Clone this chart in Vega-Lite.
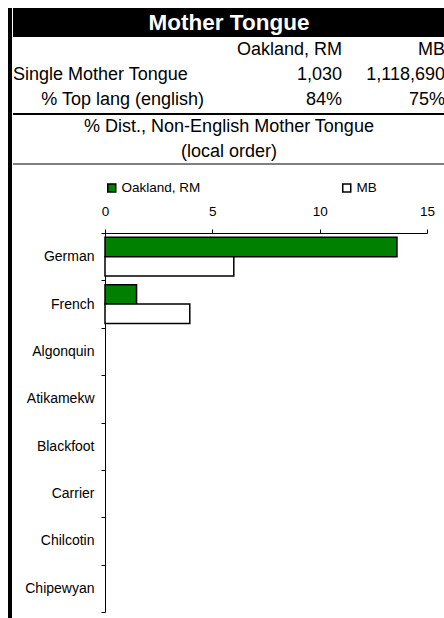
{
  "$schema": "https://vega.github.io/schema/vega-lite/v6.json",
  "padding": {"left": 8, "top": 8, "right": 0, "bottom": 0},
  "config": {
    "font": "Liberation Sans",
    "view": {"stroke": null},
    "text": {"color": "black"}
  },
  "datasets": {
    "banner": [{"title": "Mother Tongue"}],
    "table": [
      {"metric": "Single Mother Tongue", "region": "Oakland, RM", "value": 1030},
      {"metric": "Single Mother Tongue", "region": "MB", "value": 1118690},
      {"metric": "% Top lang (english)", "region": "Oakland, RM", "value": 0.84},
      {"metric": "% Top lang (english)", "region": "MB", "value": 0.75}
    ],
    "subtitle": [
      {"line": "% Dist., Non-English Mother Tongue"},
      {"line": "(local order)"}
    ],
    "dist": [
      {"language": "German", "region": "Oakland, RM", "share": 13.6},
      {"language": "German", "region": "MB", "share": 6.0},
      {"language": "French", "region": "Oakland, RM", "share": 1.47},
      {"language": "French", "region": "MB", "share": 3.95},
      {"language": "Algonquin", "region": "Oakland, RM", "share": 0},
      {"language": "Algonquin", "region": "MB", "share": 0},
      {"language": "Atikamekw", "region": "Oakland, RM", "share": 0},
      {"language": "Atikamekw", "region": "MB", "share": 0},
      {"language": "Blackfoot", "region": "Oakland, RM", "share": 0},
      {"language": "Blackfoot", "region": "MB", "share": 0},
      {"language": "Carrier", "region": "Oakland, RM", "share": 0},
      {"language": "Carrier", "region": "MB", "share": 0},
      {"language": "Chilcotin", "region": "Oakland, RM", "share": 0},
      {"language": "Chilcotin", "region": "MB", "share": 0},
      {"language": "Chipewyan", "region": "Oakland, RM", "share": 0},
      {"language": "Chipewyan", "region": "MB", "share": 0}
    ]
  },
  "spacing": 0,
  "resolve": {"legend": {"color": "independent"}, "scale": {"color": "independent"}},
  "hconcat": [
    {
      "width": 4,
      "height": 610,
      "view": {"fill": "black", "stroke": null},
      "data": {"name": "banner"},
      "mark": {"type": "text", "text": ""}
    },
    {
      "spacing": 16,
      "resolve": {"legend": {"color": "independent"}, "scale": {"color": "independent"}},
      "vconcat": [
        {
          "spacing": 0,
          "vconcat": [
            {
              "width": 432,
              "height": 29,
              "view": {"fill": "black", "stroke": null},
              "data": {"name": "banner"},
              "mark": {"type": "text", "color": "white", "fontSize": 22.5, "fontWeight": "bold"},
              "encoding": {"text": {"field": "title"}}
            },
            {
              "spacing": 0,
              "hconcat": [
                {
                  "width": 191,
                  "height": 76,
                  "data": {"name": "table"},
                  "transform": [{"filter": "datum.region == 'Oakland, RM'"}],
                  "layer": [
                    {
                      "transform": [{"filter": "datum.metric == 'Single Mother Tongue'"}],
                      "mark": {"type": "text", "align": "left", "fontSize": 18},
                      "encoding": {
                        "x": {"field": "metric", "type": "nominal", "bandPosition": 0, "scale": {"type": "band", "domain": ["Single Mother Tongue", "% Top lang (english)"], "paddingInner": 0, "paddingOuter": 0}, "axis": null},
                        "y": {"field": "metric", "type": "nominal", "bandPosition": 0.5, "scale": {"type": "band", "domain": ["header", "Single Mother Tongue", "% Top lang (english)"], "paddingInner": 0, "paddingOuter": 0}, "axis": null},
                        "text": {"field": "metric"}
                      }
                    },
                    {
                      "transform": [{"filter": "datum.metric == '% Top lang (english)'"}],
                      "mark": {"type": "text", "align": "right", "fontSize": 18},
                      "encoding": {
                        "x": {"field": "metric", "type": "nominal", "bandPosition": 1, "scale": {"type": "band", "domain": ["Single Mother Tongue", "% Top lang (english)"], "paddingInner": 0, "paddingOuter": 0}, "axis": null},
                        "y": {"field": "metric", "type": "nominal", "bandPosition": 0.5, "scale": {"type": "band", "domain": ["header", "Single Mother Tongue", "% Top lang (english)"], "paddingInner": 0, "paddingOuter": 0}, "axis": null},
                        "text": {"field": "metric"}
                      }
                    }
                  ]
                },
                {
                  "width": 138,
                  "height": 76,
                  "data": {"name": "table"},
                  "transform": [{"filter": "datum.region == 'Oakland, RM'"}],
                  "encoding": {
                    "x": {"field": "region", "type": "nominal", "bandPosition": 1, "scale": {"type": "band", "paddingInner": 0, "paddingOuter": 0}, "axis": null}
                  },
                  "layer": [
                    {
                      "transform": [{"filter": "datum.metric == 'Single Mother Tongue'"}],
                      "mark": {"type": "text", "align": "right", "fontSize": 18},
                      "encoding": {
                        "y": {"datum": "header", "type": "nominal", "bandPosition": 0.5, "scale": {"type": "band", "domain": ["header", "Single Mother Tongue", "% Top lang (english)"], "paddingInner": 0, "paddingOuter": 0}, "axis": null},
                        "text": {"field": "region"}
                      }
                    },
                    {
                      "transform": [{"filter": "datum.metric == 'Single Mother Tongue'"}],
                      "mark": {"type": "text", "align": "right", "fontSize": 18},
                      "encoding": {
                        "y": {"field": "metric", "type": "nominal", "bandPosition": 0.5, "scale": {"type": "band", "domain": ["header", "Single Mother Tongue", "% Top lang (english)"], "paddingInner": 0, "paddingOuter": 0}, "axis": null},
                        "text": {"field": "value", "type": "quantitative", "format": ","}
                      }
                    },
                    {
                      "transform": [{"filter": "datum.metric == '% Top lang (english)'"}],
                      "mark": {"type": "text", "align": "right", "fontSize": 18},
                      "encoding": {
                        "y": {"field": "metric", "type": "nominal", "bandPosition": 0.5, "scale": {"type": "band", "domain": ["header", "Single Mother Tongue", "% Top lang (english)"], "paddingInner": 0, "paddingOuter": 0}, "axis": null},
                        "text": {"field": "value", "type": "quantitative", "format": ".0%"}
                      }
                    }
                  ]
                },
                {
                  "width": 103,
                  "height": 76,
                  "data": {"name": "table"},
                  "transform": [{"filter": "datum.region == 'MB'"}],
                  "encoding": {
                    "x": {"field": "region", "type": "nominal", "bandPosition": 1, "scale": {"type": "band", "paddingInner": 0, "paddingOuter": 0}, "axis": null}
                  },
                  "layer": [
                    {
                      "transform": [{"filter": "datum.metric == 'Single Mother Tongue'"}],
                      "mark": {"type": "text", "align": "right", "fontSize": 18},
                      "encoding": {
                        "y": {"datum": "header", "type": "nominal", "bandPosition": 0.5, "scale": {"type": "band", "domain": ["header", "Single Mother Tongue", "% Top lang (english)"], "paddingInner": 0, "paddingOuter": 0}, "axis": null},
                        "text": {"field": "region"}
                      }
                    },
                    {
                      "transform": [{"filter": "datum.metric == 'Single Mother Tongue'"}],
                      "mark": {"type": "text", "align": "right", "fontSize": 18},
                      "encoding": {
                        "y": {"field": "metric", "type": "nominal", "bandPosition": 0.5, "scale": {"type": "band", "domain": ["header", "Single Mother Tongue", "% Top lang (english)"], "paddingInner": 0, "paddingOuter": 0}, "axis": null},
                        "text": {"field": "value", "type": "quantitative", "format": ","}
                      }
                    },
                    {
                      "transform": [{"filter": "datum.metric == '% Top lang (english)'"}],
                      "mark": {"type": "text", "align": "right", "fontSize": 18},
                      "encoding": {
                        "y": {"field": "metric", "type": "nominal", "bandPosition": 0.5, "scale": {"type": "band", "domain": ["header", "Single Mother Tongue", "% Top lang (english)"], "paddingInner": 0, "paddingOuter": 0}, "axis": null},
                        "text": {"field": "value", "type": "quantitative", "format": ".0%"}
                      }
                    }
                  ]
                }
              ]
            },
            {
              "width": 432,
              "height": 50,
              "data": {"name": "subtitle"},
              "layer": [
                {
                  "mark": {"type": "text", "fontSize": 18},
                  "encoding": {
                    "y": {"field": "line", "type": "nominal", "bandPosition": 0.5, "scale": {"type": "band", "domain": ["% Dist., Non-English Mother Tongue", "(local order)"], "paddingInner": 0, "paddingOuter": 0}, "axis": null},
                    "text": {"field": "line"}
                  }
                },
                {
                  "transform": [{"filter": "datum.line == '% Dist., Non-English Mother Tongue'"}],
                  "mark": {"type": "rule", "color": "black", "strokeWidth": 2},
                  "encoding": {
                    "y": {"field": "line", "type": "nominal", "bandPosition": 0, "scale": {"type": "band", "domain": ["% Dist., Non-English Mother Tongue", "(local order)"], "paddingInner": 0, "paddingOuter": 0}, "axis": null}
                  }
                },
                {
                  "transform": [{"filter": "datum.line == '(local order)'"}],
                  "mark": {"type": "rule", "color": "black", "strokeWidth": 1},
                  "encoding": {
                    "y": {"field": "line", "type": "nominal", "bandPosition": 1, "scale": {"type": "band", "domain": ["% Dist., Non-English Mother Tongue", "(local order)"], "paddingInner": 0, "paddingOuter": 0}, "axis": null}
                  }
                }
              ]
            }
          ]
        },
        {
          "spacing": 0,
          "resolve": {"legend": {"color": "independent"}, "scale": {"color": "independent"}},
          "hconcat": [
            {
              "width": 11,
              "height": 1,
              "data": {"name": "banner"},
              "mark": {"type": "text", "text": ""}
            },
            {
              "width": 322,
              "height": 379,
              "data": {"name": "dist"},
              "transform": [{"filter": "datum.share > 0"}],
              "mark": {"type": "bar", "stroke": "black", "strokeWidth": 1.5},
              "encoding": {
                "y": {
                  "field": "language",
                  "type": "nominal",
                  "scale": {"domain": ["German", "French", "Algonquin", "Atikamekw", "Blackfoot", "Carrier", "Chilcotin", "Chipewyan"], "paddingInner": 0, "paddingOuter": 0},
                  "axis": {"title": null, "ticks": true, "tickBand": "extent", "tickSize": 4, "tickWidth": 1, "labelPadding": 7, "labelFontSize": 14, "labelColor": "black", "domainColor": "black", "tickColor": "black"}
                },
                "x": {
                  "field": "share",
                  "type": "quantitative",
                  "scale": {"domain": [0, 15], "nice": false},
                  "axis": {"orient": "top", "title": null, "values": [0, 5, 10, 15], "grid": false, "ticks": true, "tickSize": 4, "tickWidth": 1, "labelPadding": 11, "labelFontSize": 13.5, "labelColor": "black", "domainColor": "black", "tickColor": "black", "labelFlush": false}
                },
                "yOffset": {
                  "field": "region",
                  "type": "nominal",
                  "sort": ["Oakland, RM", "MB"],
                  "scale": {"domain": ["Oakland, RM", "MB"], "paddingInner": 0, "paddingOuter": 0.225}
                },
                "color": {
                  "field": "region",
                  "type": "nominal",
                  "scale": {"domain": ["Oakland, RM", "MB"], "range": ["#008000", "#ffffff"]},
                  "legend": {"orient": "top", "direction": "horizontal", "title": null, "symbolType": "square", "symbolSize": 64, "symbolStrokeColor": "black", "symbolStrokeWidth": 1.5, "symbolOpacity": 1, "labelFontSize": 13.5, "labelColor": "black", "labelOffset": 3, "columnPadding": 138, "offset": 9}
                }
              }
            }
          ]
        }
      ]
    }
  ]
}
